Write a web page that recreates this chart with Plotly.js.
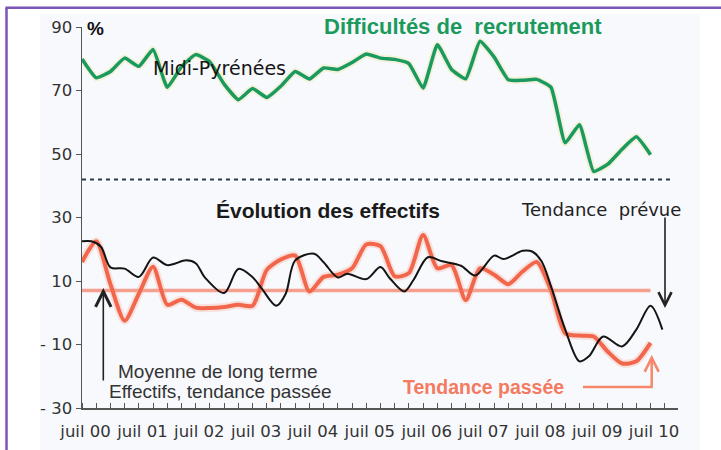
<!DOCTYPE html>
<html><head><meta charset="utf-8">
<script src="https://cdn.plot.ly/plotly-3.0.1.min.js"></script>
<style>html,body{margin:0;padding:0;background:#fff;}#chart{width:721px;height:450px;}</style>
</head><body><div id="chart"></div>
<script>
// x positions are months counted from the first quarterly observation (mid-2000)
const quarterMonths = [0,3,6,9,12,15,18,21,24,27,30,33,36,39,42,45,48,51,54,57,60,63,66,69,72,75,78,81,84,87,90,93,96,99,102,105,108,111,114,117,120];

// Difficultés de recrutement, Midi-Pyrénées (%)
const difficultes = [79.9,74,76,80.2,77.6,82.9,71,77.5,81.3,79,72,67.1,70.6,67.8,71.4,76,73.6,77.1,76.6,78.8,81.5,80.2,79.8,78.5,70.8,84.4,76.6,73.7,85.5,80.5,73.4,73.2,73.5,71,53.5,59.2,44.5,46.8,51.5,55.4,49.8];

// Évolution des effectifs : tendance passée (%)
const tendancePassee = [16,22.5,9,-2.5,6,14.5,2.5,4.1,1.6,1.5,1.8,2.5,2.2,13.5,16.8,18,6.7,11.3,12,14,21.5,21,11.5,12.5,24.5,14,15,4,14,12,9,13,16,7,-6.5,-7.2,-7.5,-12.3,-16,-15.3,-9.5];

// Évolution des effectifs : tendance prévue (%)
const prevueMonths = [0,2,4,6,9,12,15,18,22,24,26,30,33,36,38,41,43,45,49,51,54,56,60,63,65,68,70,73,76,80,83,87,89,93,95,97,99,102,105,107,110,114,117,120,122.5];
const tendancePrevue = [22.5,22.5,20.8,14.3,13.9,11.3,17.4,15,16.5,15.6,11,6.2,13.8,11.2,7.5,2.2,6,16.5,18.6,15.9,11.1,12.3,10.6,14.4,10.8,6.7,10.4,17.5,16.2,14.8,11.7,18,16.9,19.5,19.3,16.2,8.3,-5.3,-15.3,-13.7,-7.5,-10.6,-5.3,2.2,-5.3];

// Moyenne de long terme and reference dashed level
const moyenneLongTerme = 7;
const niveauPointille = 42;
const moyenneSpan = [0,120];
const pointilleSpan = [0,124.8];

// Axis labels
const yTickVals = [-30,-10,10,30,50,70,90];
const yTickText = ['- 30','- 10','10','30','50','70','90'];
const xTickVals = [0.75,12.75,24.75,36.75,48.75,60.75,72.75,84.75,96.75,108.75,120.75];
const xTickText = ['juil 00','juil 01','juil 02','juil 03','juil 04','juil 05','juil 06','juil 07','juil 08','juil 09','juil 10'];

const GREEN = '#1a9960', RED = '#f2674c', SALMON = 'rgba(244,130,105,0.75)';

const traces = [
  {x: moyenneSpan, y: moyenneSpan.map(()=>moyenneLongTerme), mode:'lines', line:{color:SALMON, width:3.5}},
  {x: pointilleSpan, y: pointilleSpan.map(()=>niveauPointille), mode:'lines', line:{color:'#2e3a4a', width:2, dash:'4px,4px'}},
  {x: quarterMonths, y: difficultes, mode:'lines', line:{color:'rgba(235,225,140,0.35)', width:7, shape:'spline', smoothing:0.4}},
  {x: quarterMonths, y: difficultes, mode:'lines', line:{color:GREEN, width:3.5, shape:'spline', smoothing:0.4}},
  {x: quarterMonths, y: tendancePassee, mode:'lines', line:{color:'rgba(248,170,150,0.3)', width:8, shape:'spline', smoothing:0.7}},
  {x: quarterMonths, y: tendancePassee, mode:'lines', line:{color:RED, width:4, shape:'spline', smoothing:0.7}},
  {x: prevueMonths, y: tendancePrevue, mode:'lines', line:{color:'#141414', width:2, shape:'spline', smoothing:0.9}}
];

// paper-coordinate helpers for decorations
const L=82, R=678, T=27.3, B=408.3;
const px = v => (v-L)/(R-L);
const py = v => (B-v)/(B-T);

const tickFont = {family:'DejaVu Sans, Liberation Sans, sans-serif', size:16.5, color:'#333'};

function label(x, y, text, font){
  return {xref:'paper', yref:'paper', x:px(x), y:py(y), xanchor:'center', yanchor:'middle', text:text, showarrow:false, font:font};
}
function arrow(x, y, ay, size, width, color){
  return {xref:'paper', yref:'paper', x:px(x), y:py(y), text:'', showarrow:true, ax:0, ay:ay, arrowhead:5, arrowsize:size, arrowwidth:width, arrowcolor:color, standoff:0};
}

const layout = {
  width:721, height:450,
  margin:{l:82, r:43, t:27, b:42, pad:0},
  paper_bgcolor:'#ffffff', plot_bgcolor:'rgba(0,0,0,0)',
  showlegend:false, hovermode:false,
  xaxis:{range:[0,125.8], showgrid:false, zeroline:false, showline:true, linecolor:'#555', linewidth:1.5,
    tickmode:'array', tickvals:xTickVals, ticktext:xTickText, ticks:'', tickfont:tickFont, ticklabelstandoff:8,
    minor:{tickmode:'linear', tick0:0, dtick:3, ticks:'inside', ticklen:5, tickcolor:'#555', tickwidth:1, showgrid:false}},
  yaxis:{range:[-30,90], showgrid:false, zeroline:false, showline:true, linecolor:'#555', linewidth:1.5,
    tickmode:'array', tickvals:yTickVals, ticktext:yTickText, ticks:'outside', ticklen:5, tickcolor:'#555',
    tickfont:tickFont},
  shapes:[
    {type:'rect', xref:'paper', yref:'paper', x0:px(40), x1:px(700), y0:py(452), y1:py(14), fillcolor:'#f8f9fd', line:{width:0}, layer:'below'},
    {type:'line', xref:'paper', yref:'paper', x0:px(5.5), x1:px(722), y0:py(8), y1:py(8), line:{color:'#7b55b5', width:2.5}},
    {type:'line', xref:'paper', yref:'paper', x0:px(6.5), x1:px(6.5), y0:py(8), y1:py(452), line:{color:'#7b55b5', width:2.5}},
    {type:'line', xref:'paper', yref:'paper', x0:px(583), x1:px(652.8), y0:py(387.3), y1:py(387.3), line:{color:'#f4876c', width:2.5}}
  ],
  annotations:[
    label(95, 29, '<b>%</b>', {family:'Liberation Sans, Arial, sans-serif', size:19, color:'#111'}),
    label(463, 27, '<b>Difficultés de\u00a0 recrutement</b>', {family:'Liberation Sans, Arial, sans-serif', size:22, color:'#1b9a5b'}),
    label(219.5, 68, 'Midi-Pyrénées', {family:'DejaVu Sans, sans-serif', size:19, color:'#151515'}),
    label(327.5, 210.5, '<b>Évolution des effectifs</b>', {family:'Liberation Sans, Arial, sans-serif', size:21, color:'#1a1a1a'}),
    label(601, 210, 'Tendance\u00a0 prévue', {family:'DejaVu Sans, sans-serif', size:18, color:'#222'}),
    label(218, 372, 'Moyenne de long terme', {family:'Liberation Sans, Arial, sans-serif', size:19, color:'#333'}),
    label(220.5, 391.5, 'Effectifs, tendance passée', {family:'Liberation Sans, Arial, sans-serif', size:19, color:'#333'}),
    label(483.5, 387, '<b>Tendance passée</b>', {family:'Liberation Sans, Arial, sans-serif', size:19.5, color:'#f47a60'}),
    arrow(103.3, 288.3, 94, 1.9, 1.6, '#222'),
    arrow(665, 308.3, -92, 1.6, 1.6, '#222'),
    arrow(651.7, 355, 33, 1.1, 2.5, '#f4876c')
  ]
};

Plotly.newPlot('chart', traces, layout, {staticPlot:true, displayModeBar:false});
</script></body></html>
